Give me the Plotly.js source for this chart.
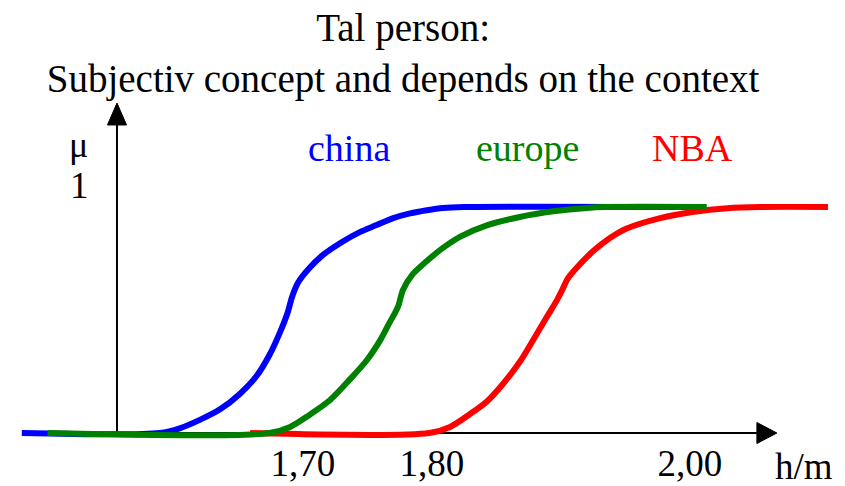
<!DOCTYPE html>
<html>
<head>
<meta charset="utf-8">
<script src="https://cdn.plot.ly/plotly-3.0.1.min.js"></script>
<style>html,body{margin:0;padding:0;background:#fff;}#chart{width:845px;height:486px;}</style>
</head>
<body>
<div id="chart"></div>
<script>
// Heights (m) and membership values (mu)
const chinaH  = [1.482, 1.589, 1.605, 1.620, 1.636, 1.651, 1.664, 1.674, 1.682, 1.688, 1.6915, 1.696, 1.705, 1.7155, 1.729, 1.744, 1.757, 1.770, 1.783, 1.796, 1.8085, 1.825, 2.008];
const chinaMu = [0, 0, 0.022, 0.058, 0.106, 0.173, 0.252, 0.345, 0.443, 0.531, 0.602, 0.664, 0.730, 0.788, 0.841, 0.889, 0.920, 0.951, 0.972, 0.986, 0.996, 1, 1];

const europeH  = [1.502, 1.674, 1.690, 1.705, 1.721, 1.736, 1.7496, 1.760, 1.767, 1.7736, 1.7775, 1.7845, 1.796, 1.8085, 1.822, 1.843, 1.868, 1.894, 1.920, 1.935, 2.013];
const europeMu = [0, 0, 0.027, 0.080, 0.146, 0.235, 0.323, 0.412, 0.487, 0.558, 0.633, 0.699, 0.761, 0.819, 0.869, 0.920, 0.956, 0.981, 0.996, 1, 1];

const nbaH  = [1.659, 1.798, 1.814, 1.8295, 1.843, 1.855, 1.868, 1.878, 1.889, 1.897, 1.901, 1.905, 1.912, 1.925, 1.938, 1.951, 1.977, 2.002, 2.029, 2.056, 2.107];
const nbaMu = [0, 0, 0.027, 0.084, 0.142, 0.217, 0.314, 0.407, 0.513, 0.589, 0.633, 0.681, 0.730, 0.805, 0.863, 0.905, 0.951, 0.978, 0.995, 1, 1];

const seriesNames = ["china", "europe", "NBA"];
const tickVals = [1.70, 1.80, 2.00];
const tickText = ["1,70", "1,80", "2,00"];
const titleText = "Tal person:<br>Subjectiv concept and depends on the context";

const serif = '"Liberation Serif", "Times New Roman", serif';
const colors = {china: "#0000ff", europe: "#008000", NBA: "#ff0000"};

function curve(x, y, name) {
  return {x: x, y: y, name: name, mode: "lines", hoverinfo: "skip",
          line: {color: colors[name], width: 6, shape: "spline", smoothing: 0.9}};
}
const traces = [curve(nbaH, nbaMu, "NBA"), curve(chinaH, chinaMu, "china"), curve(europeH, europeMu, "europe")];

const xRange = [1.4651, 2.1202];
const yRange = [-0.2345, 1.916];
const yAxisX = 1.5558;

const layout = {
  width: 845, height: 486,
  margin: {l: 0, r: 0, t: 0, b: 0},
  paper_bgcolor: "#fff", plot_bgcolor: "#fff",
  showlegend: false,
  title: {text: titleText, font: {family: serif, size: 39, color: "#000"}, x: 0.477, xanchor: "center", y: 0.915, yanchor: "top"},
  xaxis: {range: xRange, anchor: "free", position: 53/486, showgrid: false, zeroline: false, showline: false,
          ticks: "", tickvals: tickVals, ticktext: tickText, ticklabelstandoff: 5,
          tickfont: {family: serif, size: 37, color: "#000"}, fixedrange: true},
  yaxis: {range: yRange, showgrid: false, zeroline: false, showline: false, showticklabels: false, ticks: "", fixedrange: true},
  shapes: [
    {type: "line", layer: "below", x0: 1.4822, x1: 2.0519, y0: 0, y1: 0, line: {color: "#000", width: 2}},
    {type: "path", layer: "below", path: "M 2.0519,0.0465 L 2.0674,0 L 2.0519,-0.0465 Z", fillcolor: "#000", line: {color: "#000", width: 1}},
    {type: "line", layer: "below", x0: yAxisX, x1: yAxisX, y0: 0, y1: 1.372, line: {color: "#000", width: 2}},
    {type: "path", layer: "below", path: "M 1.5484,1.363 L 1.5558,1.460 L 1.5632,1.363 Z", fillcolor: "#000", line: {color: "#000", width: 1}}
  ],
  annotations: [
    {x: 1.5256, y: 1.274, text: "\u03bc", showarrow: false, font: {family: serif, size: 36, color: "#000"}, xanchor: "center", yanchor: "middle"},
    {x: 1.5271, y: 1.093, text: "1", showarrow: false, font: {family: serif, size: 37, color: "#000"}, xanchor: "center", yanchor: "middle"},
    {x: 2.0643, y: -0.150, text: "h/m", showarrow: false, font: {family: serif, size: 37, color: "#000"}, xanchor: "left", yanchor: "middle"}
  ]
};
// series name labels, coloured like their curves
const labelX = {china: 349, europe: 528, NBA: 693};
seriesNames.forEach(function (n) {
  layout.annotations.push({x: 1.8 + (labelX[n] - 432) / 1290, y: 1.26, text: n, showarrow: false,
    font: {family: serif, size: 38, color: colors[n]}, xanchor: "center", yanchor: "middle"});
});

Plotly.newPlot("chart", traces, layout, {staticPlot: true, displayModeBar: false});
</script>
</body>
</html>
